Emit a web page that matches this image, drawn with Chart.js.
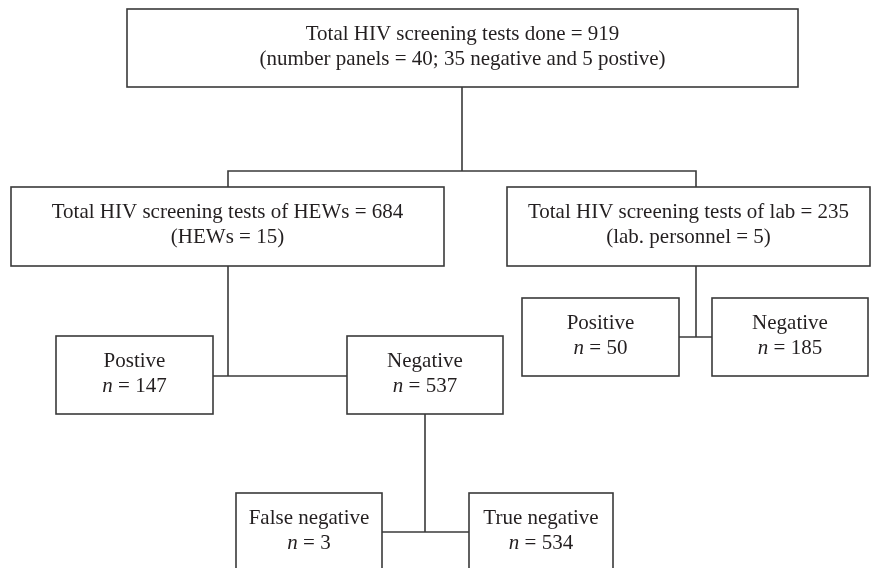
<!DOCTYPE html>
<html>
<head>
<meta charset="utf-8">
<script src="https://cdn.jsdelivr.net/npm/chart.js@4"></script>
<style>
  html, body { margin: 0; padding: 0; background: #fff; }
  #wrap { width: 871px; height: 568px; position: relative; }
</style>
</head>
<body>
<div id="wrap"><canvas id="flow"></canvas></div>
<script>
// node data
const nodeTitles = ['Total HIV screening tests done', 'Total HIV screening tests of HEWs', 'Total HIV screening tests of lab',
  'Postive', 'Negative', 'Positive', 'Negative', 'False negative', 'True negative']
const nodeCounts = [919, 684, 235, 147, 537, 50, 185, 3, 534]
const nodeNotes = ['(number panels = 40; 35 negative and 5 postive)', '(HEWs = 15)', '(lab. personnel = 5)',
  null, null, null, null, null, null]

// layout (diagram units = px of the 871x568 figure)
const boxes = [
  [127, 9, 798, 87],
  [11, 187, 444, 266],
  [507, 187, 870, 266],
  [56, 336, 213, 414],
  [347, 336, 503, 414],
  [522, 298, 679, 376],
  [712, 298, 868, 376],
  [236, 493, 382, 590],
  [469, 493, 613, 590]
]
const connectors = [
  [[462, 87], [462, 171]],
  [[228, 187], [228, 171], [696, 171], [696, 187]],
  [[228, 266], [228, 376]],
  [[213, 376], [347, 376]],
  [[696, 266], [696, 337]],
  [[679, 337], [712, 337]],
  [[425, 414], [425, 532]],
  [[382, 532], [469, 532]]
]

const ink = '#231f20'
const lineCol = '#3a3a3a'
const fontSize = 21
const serif = '"Liberation Serif", "DejaVu Serif", serif'

const boxPlugin = {
  id: 'boxes',
  afterDatasetsDraw(chart) {
    const ctx = chart.ctx
    const xs = chart.scales.x, ys = chart.scales.y
    ctx.save()
    ctx.lineWidth = 1.6
    ctx.strokeStyle = lineCol
    ctx.fillStyle = ink
    ctx.textBaseline = 'middle'
    for (let i = 0; i < boxes.length; i++) {
      const [a, b, c, d] = boxes[i]
      const x0 = xs.getPixelForValue(a), x1 = xs.getPixelForValue(c)
      const y0 = ys.getPixelForValue(b), y1 = ys.getPixelForValue(d)
      ctx.fillStyle = '#fff'
      ctx.fillRect(x0, y0, x1 - x0, y1 - y0)
      ctx.strokeRect(x0, y0, x1 - x0, y1 - y0)
      ctx.fillStyle = ink
      const cx = (x0 + x1) / 2
      const l1 = y0 + 25, l2 = y0 + 50
      ctx.textAlign = 'center'
      ctx.font = fontSize + 'px ' + serif
      if (nodeNotes[i]) {
        ctx.fillText(nodeTitles[i] + ' = ' + nodeCounts[i], cx, l1)
        ctx.fillText(nodeNotes[i], cx, l2)
      } else {
        ctx.fillText(nodeTitles[i], cx, l1)
        // italic n then " = count"
        const rest = ' = ' + nodeCounts[i]
        ctx.font = 'italic ' + fontSize + 'px ' + serif
        const wn = ctx.measureText('n').width
        ctx.font = fontSize + 'px ' + serif
        const wr = ctx.measureText(rest).width
        const start = cx - (wn + wr) / 2
        ctx.textAlign = 'left'
        ctx.font = 'italic ' + fontSize + 'px ' + serif
        ctx.fillText('n', start, l2)
        ctx.font = fontSize + 'px ' + serif
        ctx.fillText(rest, start + wn, l2)
      }
    }
    ctx.restore()
  }
}

new Chart(document.getElementById('flow'), {
  type: 'scatter',
  data: {
    datasets: connectors.map(pts => ({
      data: pts.map(p => ({ x: p[0], y: p[1] })),
      showLine: true,
      borderColor: lineCol,
      borderWidth: 1.6,
      pointRadius: 0,
      tension: 0
    }))
  },
  options: {
    responsive: true,
    maintainAspectRatio: false,
    animation: false,
    layout: { padding: 0 },
    plugins: { legend: { display: false }, tooltip: { enabled: false } },
    scales: {
      x: { type: 'linear', min: 0, max: 871, display: false },
      y: { type: 'linear', min: 0, max: 568, reverse: true, display: false }
    }
  },
  plugins: [boxPlugin]
})
</script>
</body>
</html>
